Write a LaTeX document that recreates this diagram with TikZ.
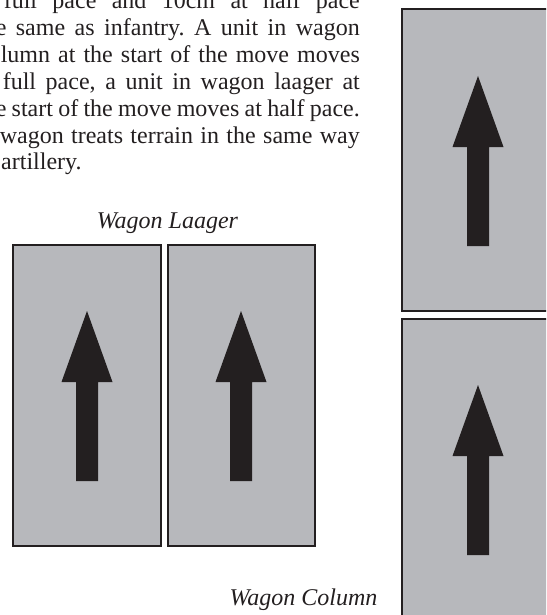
\documentclass[tikz,border=0pt]{standalone}
\usepackage{fontspec}
\setmainfont{Liberation Serif}
\frenchspacing
\definecolor{boxfill}{RGB}{183,184,188}
\definecolor{inkdark}{RGB}{35,31,32}
\tikzset{
  wagonbox/.style={fill=boxfill, draw=inkdark, line width=2.4pt},
  arrowshape/.style={fill=inkdark, draw=none},
  bodytext/.style={inner sep=0pt, text=inkdark, font=\fontsize{24}{27}\selectfont},
  captiontext/.style={inner sep=0pt, text=inkdark, font=\fontsize{24}{27}\selectfont\itshape}
}
\newcommand{\wagonarrow}[2]{% center x, tip y
  \fill[arrowshape] (#1,#2) -- (#1+25.5,#2+71) -- (#1+11,#2+71) -- (#1+11,#2+170)
    -- (#1-11,#2+170) -- (#1-11,#2+71) -- (#1-25.5,#2+71) -- cycle;}
\begin{document}
\begin{tikzpicture}[x=1pt,y=-1pt]
\useasboundingbox (0,0) rectangle (546,615);
\clip (0,0) rectangle (546,615);
% paragraph (cropped on the left)
\node[bodytext, anchor=base east] (l1) at (360,9) {\makebox[356pt][s]{full pace and 10cm at half pace}};
\node[bodytext, anchor=base east] (l2) at (360,35.8) {\makebox[364pt][s]{e same as infantry. A unit in wagon}};
\node[bodytext, anchor=base east] (l3) at (360,62.6) {\makebox[359pt][s]{lumn at the start of the move moves}};
\node[bodytext, anchor=base east] (l4) at (360,89.4) {\makebox[357pt][s]{full pace, a unit in wagon laager at}};
\node[bodytext, anchor=base east] (l5) at (360,116.2) {\makebox[364pt][s]{e start of the move moves at half pace.}};
\node[bodytext, anchor=base east] (l6) at (360,143) {\makebox[360pt][s]{wagon treats terrain in the same way}};
\node[bodytext, anchor=base west] (l7) at (1,169.8) {artillery.};
% captions
\node[captiontext, anchor=base] (laager) at (167.5,228) {Wagon Laager};
\node[captiontext, anchor=base] (column) at (303.5,605) {Wagon Column};
% wagon laager
\draw[wagonbox] (13,245) rectangle (161,546);
\draw[wagonbox] (168,245) rectangle (315,546);
\wagonarrow{87}{311}
\wagonarrow{241}{311}
% wagon column
\draw[wagonbox] (402,9) rectangle (570,311);
\draw[wagonbox] (402,319) rectangle (570,640);
\wagonarrow{478}{76}
\wagonarrow{478}{385}
\end{tikzpicture}
\end{document}
